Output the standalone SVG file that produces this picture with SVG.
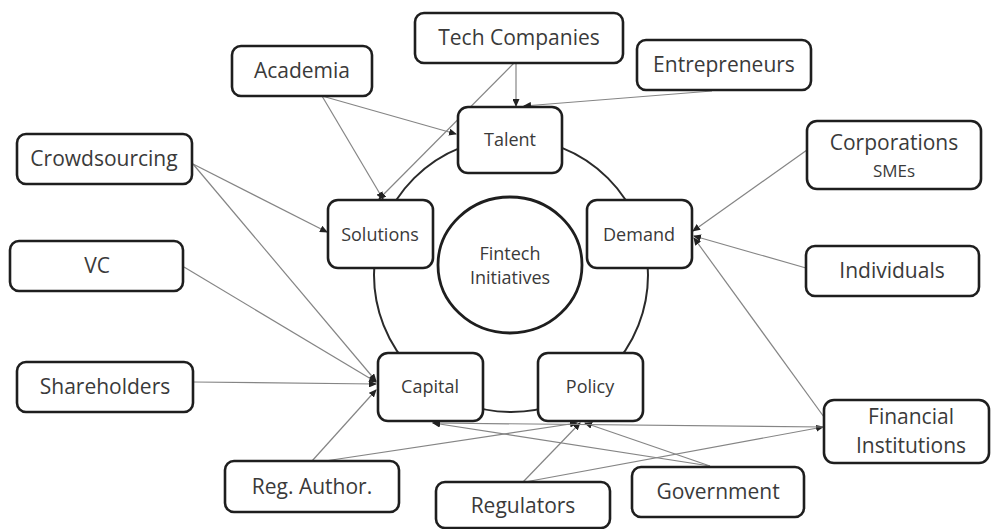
<svg xmlns="http://www.w3.org/2000/svg" width="993" height="529" viewBox="0 0 993 529">
<defs>
<style>
.box{fill:#fff;stroke:#1e1e1e;stroke-width:2.6}
.ring{fill:none;stroke:#2a2a2a;stroke-width:2}
.core{fill:#fff;stroke:#1e1e1e;stroke-width:2.8}
.lbl{font-family:"Open Sans","Liberation Sans",sans-serif;font-size:21px;fill:#3a3a3a;text-anchor:middle}
.in{font-family:"Open Sans","Liberation Sans",sans-serif;font-size:18px;fill:#3a3a3a;text-anchor:middle}
.sm{font-size:17px}
.c{stroke:#858585;stroke-width:1.2;fill:none;marker-end:url(#ah)}
</style>
<marker id="ah" markerUnits="userSpaceOnUse" markerWidth="8" markerHeight="7" refX="7" refY="3.5" orient="auto">
<path d="M0,0 L8,3.5 L0,7 z" fill="#222"/>
</marker>
</defs>
<rect width="993" height="529" fill="#fff"/>
<circle class="ring" cx="511" cy="275" r="137"/>
<g id="connectors">
<line class="c" x1="516" y1="63" x2="516" y2="106"/>
<line class="c" x1="514" y1="63" x2="379" y2="199"/>
<line class="c" x1="712" y1="91" x2="524" y2="106"/>
<line class="c" x1="322" y1="96" x2="456" y2="134"/>
<line class="c" x1="322" y1="96" x2="383" y2="199"/>
<line class="c" x1="193" y1="164" x2="327" y2="232"/>
<line class="c" x1="193" y1="164" x2="376" y2="381"/>
<line class="c" x1="184" y1="267" x2="376" y2="382"/>
<line class="c" x1="193" y1="382" x2="376" y2="384"/>
<line class="c" x1="312" y1="461" x2="376" y2="390"/>
<line class="c" x1="325" y1="461" x2="577" y2="423"/>
<line class="c" x1="523" y1="482" x2="580" y2="423"/>
<line class="c" x1="525" y1="482" x2="823" y2="427"/>
<line class="c" x1="710" y1="466" x2="433" y2="423"/>
<line class="c" x1="710" y1="466" x2="585" y2="423"/>
<line class="c" x1="824" y1="427" x2="433" y2="423"/>
<line class="c" x1="824" y1="417" x2="694" y2="238"/>
<line class="c" x1="807" y1="150" x2="693" y2="231"/>
<line class="c" x1="806" y1="268" x2="694" y2="236"/>
</g>
<g id="n-tech"><rect class="box" x="415" y="13" width="208" height="50" rx="9"/><text class="lbl" x="519" y="45">Tech Companies</text></g>
<g id="n-academia"><rect class="box" x="232" y="46" width="140" height="50" rx="9"/><text class="lbl" x="302" y="78">Academia</text></g>
<g id="n-entre"><rect class="box" x="637" y="40" width="174" height="50" rx="9"/><text class="lbl" x="724" y="72">Entrepreneurs</text></g>
<g id="n-talent"><rect class="box" x="458" y="107" width="104" height="66" rx="10"/><text class="in" x="510" y="146">Talent</text></g>
<g id="n-crowd"><rect class="box" x="17" y="134" width="175" height="50" rx="9"/><text class="lbl" x="104" y="166">Crowdsourcing</text></g>
<g id="n-corp"><rect class="box" x="807" y="121" width="174" height="68" rx="10"/><text class="lbl" x="894" y="150">Corporations</text><text class="lbl sm" x="894" y="177">SMEs</text></g>
<g id="n-vc"><rect class="box" x="10" y="241" width="173" height="50" rx="9"/><text class="lbl" x="97" y="273">VC</text></g>
<g id="n-solutions"><rect class="box" x="328" y="200" width="105" height="68" rx="10"/><text class="in" x="380" y="241">Solutions</text></g>
<g id="n-demand"><rect class="box" x="587" y="200" width="105" height="68" rx="10"/><text class="in" x="639" y="241">Demand</text></g>
<g id="n-fintech"><ellipse class="core" cx="510" cy="265" rx="72" ry="68"/><text class="in" x="510" y="260">Fintech</text><text class="in" x="510" y="284">Initiatives</text></g>
<g id="n-indiv"><rect class="box" x="806" y="246" width="173" height="50" rx="9"/><text class="lbl" x="892" y="278">Individuals</text></g>
<g id="n-share"><rect class="box" x="17" y="362" width="176" height="50" rx="9"/><text class="lbl" x="105" y="394">Shareholders</text></g>
<g id="n-capital"><rect class="box" x="378" y="353" width="105" height="68" rx="10"/><text class="in" x="430" y="393">Capital</text></g>
<g id="n-policy"><rect class="box" x="538" y="353" width="105" height="68" rx="10"/><text class="in" x="590" y="393">Policy</text></g>
<g id="n-fi"><rect class="box" x="824" y="400" width="165" height="63" rx="10"/><text class="lbl" x="911" y="424">Financial</text><text class="lbl" x="911" y="453">Institutions</text></g>
<g id="n-regauth"><rect class="box" x="225" y="461" width="174" height="51" rx="9"/><text class="lbl" x="312" y="494">Reg. Author.</text></g>
<g id="n-regulators"><rect class="box" x="436" y="482" width="174" height="46" rx="9"/><text class="lbl" x="523" y="513">Regulators</text></g>
<g id="n-gov"><rect class="box" x="632" y="467" width="172" height="50" rx="9"/><text class="lbl" x="718" y="499">Government</text></g>
</svg>
